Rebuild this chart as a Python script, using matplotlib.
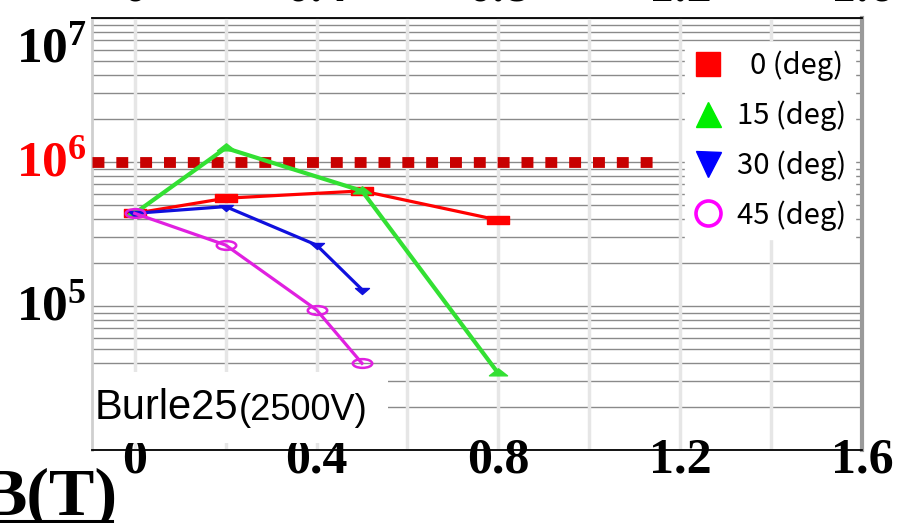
import numpy as np
import matplotlib
matplotlib.use('Agg')
import matplotlib.pyplot as plt
import matplotlib.transforms as mtransforms
from matplotlib.path import Path
from matplotlib.lines import Line2D
from matplotlib.patches import Rectangle
from matplotlib.ticker import LogLocator, NullFormatter, MultipleLocator

plt.rcParams['mathtext.fontset'] = 'custom'
plt.rcParams['mathtext.bf'] = 'Liberation Serif:bold'
plt.rcParams['mathtext.rm'] = 'Liberation Serif:bold'

# gain vs magnetic field, one series per tilt angle
field_deg0 = [0, 0.2, 0.5, 0.8]
gain_deg0 = [4.4e5, 5.6e5, 6.3e5, 3.95e5]
field_deg15 = [0, 0.2, 0.5, 0.8]
gain_deg15 = [4.4e5, 1.25e6, 6.3e5, 3.4e4]
field_deg30 = [0, 0.2, 0.4, 0.5]
gain_deg30 = [4.4e5, 4.9e5, 2.65e5, 1.3e5]
field_deg45 = [0, 0.2, 0.4, 0.5]
gain_deg45 = [4.4e5, 2.65e5, 9.4e4, 4.0e4]

angle_labels = ['  0 (deg)', '15 (deg)', '30 (deg)', '45 (deg)']
x_ticks = [0, 0.4, 0.8, 1.2, 1.6]
x_tick_labels = ['0', '0.4', '0.8', '1.2', '1.6']
y_label_exps = [5, 6, 7]
threshold_gain = 1e6
threshold_end = 1.145


def flat(path, squash):
    # squeeze a marker path vertically
    return Path(path.vertices * [1, squash], path.codes)


square = Path([[-1, -1], [1, -1], [1, 1], [-1, 1], [-1, -1]],
              [Path.MOVETO, Path.LINETO, Path.LINETO, Path.LINETO, Path.CLOSEPOLY])
tri_up = Path.unit_regular_polygon(3)
tri_down = Path(tri_up.vertices * [1, -1], tri_up.codes)
circle = Path.unit_circle()

fig = plt.figure(figsize=(8.99, 5.23), dpi=100)
ax = fig.add_axes([0.1023, 0.1396, 0.8566, 0.826])
ax.set_yscale('log')
ax.set_xlim(-0.094, 1.594)
ax.set_ylim(1e4, 1e7)

# log grid behind everything
ax.yaxis.set_major_locator(LogLocator(base=10))
ax.yaxis.set_minor_locator(LogLocator(base=10, subs=np.arange(2, 10)))
ax.yaxis.set_major_formatter(NullFormatter())
ax.yaxis.set_minor_formatter(NullFormatter())
ax.grid(axis='y', which='both', color='#8a8a8a', lw=1.0)
ax.set_axisbelow(True)
ax.tick_params(axis='y', which='both', length=0)

# light vertical grid every 0.2 T, drawn over the horizontal one
grid_x = MultipleLocator(0.2).tick_values(*ax.get_xlim())
for xv in grid_x:
    if ax.get_xlim()[0] < xv < ax.get_xlim()[1]:
        ax.axvline(xv, color='#e6e6e6', lw=2.5, zorder=0.8)

ax.spines['top'].set_color('black')
ax.spines['top'].set_linewidth(1.3)
ax.spines['bottom'].set_color('black')
ax.spines['bottom'].set_linewidth(1.3)
ax.spines['left'].set_color('#cfcfcf')
ax.spines['left'].set_linewidth(2)
ax.spines['right'].set_color('#9a9a9a')
ax.spines['right'].set_linewidth(3)

# threshold line at 1e6
ax.plot([ax.get_xlim()[0], threshold_end], [threshold_gain, threshold_gain],
        color='#c80000', lw=7.8, linestyle=(0, (1.1, 1.1)), dash_capstyle='butt', zorder=3)

ax.plot(field_deg0, gain_deg0, color='#ff0000', lw=2.3, marker=flat(square, 0.4),
        markersize=16, zorder=4)
ax.plot(field_deg15, gain_deg15, color='#33e033', lw=3.0, marker=flat(tri_up, 0.45),
        markersize=13, zorder=4)
ax.plot(field_deg30, gain_deg30, color='#1010dd', lw=2.3, marker=flat(tri_down, 0.5),
        markersize=10, zorder=4)
ax.plot(field_deg45, gain_deg45, color='#e020e0', lw=2.3, marker=flat(circle, 0.45),
        markersize=14, markerfacecolor='none', markeredgewidth=1.8, zorder=4)

# x ticks, bottom and (cut off) top
ax.set_xticks(x_ticks)
ax.set_xticklabels(x_tick_labels, fontfamily='Liberation Serif', fontweight='bold', fontsize=36)
ax.tick_params(axis='x', which='both', length=0, pad=-9)
top = ax.secondary_xaxis('top')
top.set_xticks(x_ticks)
top.set_xticklabels(x_tick_labels, fontfamily='Liberation Serif', fontweight='bold', fontsize=36)
top.tick_params(axis='x', length=0, pad=5)
top.spines['top'].set_visible(False)

# decade labels on the left
ytrans = mtransforms.blended_transform_factory(ax.transAxes, ax.transData)
for e in y_label_exps:
    dy = -21 if e == 7 else 0
    ax.annotate(r'$\mathbf{10^{%d}}$' % e, xy=(0, 10.0 ** e), xycoords=ytrans,
                xytext=(-4, dy), textcoords='offset points', ha='right', va='center',
                fontsize=37, color='red' if e == 6 else 'black', annotation_clip=False)

# tube name box
ax.add_patch(Rectangle((0, 0.016), 0.384, 0.164, transform=ax.transAxes,
                       facecolor='white', edgecolor='none', zorder=2))
t1 = ax.text(0.004, 0.05, 'Burle25', transform=ax.transAxes, fontfamily='Liberation Sans',
             fontsize=30, va='bottom', ha='left', zorder=5)
ax.annotate('(2500V)', xy=(1, 0), xycoords=t1, va='bottom', ha='left',
            fontfamily='Liberation Sans', fontsize=26, zorder=5)

# legend
handles = [
    Line2D([], [], ls='none', marker='s', color='#ff0000', markersize=17),
    Line2D([], [], ls='none', marker='^', color='#00ee00', markersize=18),
    Line2D([], [], ls='none', marker='v', color='#0000ff', markersize=18),
    Line2D([], [], ls='none', marker='o', markerfacecolor='none', markeredgecolor='#ff00ff',
           markeredgewidth=2.6, markersize=18),
]
leg = ax.legend(handles, angle_labels, loc='upper right', bbox_to_anchor=(0.991, 0.944),
                prop={'family': 'Noto Sans CJK JP', 'size': 21}, frameon=True, fancybox=False,
                framealpha=1, edgecolor='white', borderpad=0.3, labelspacing=0.66,
                handlelength=1.0, handletextpad=0.5, borderaxespad=0)
leg.set_zorder(6)

# axis title, underlined
fig.text(-18 / 899, 8 / 523, 'B(T)', fontfamily='Liberation Serif', fontweight='bold',
         fontsize=49, va='baseline', ha='left')
fig.add_artist(Line2D([0, 112 / 899], [2 / 523, 2 / 523], color='black', lw=2.2,
                      transform=fig.transFigure))

fig.savefig('out.png', dpi=100)
